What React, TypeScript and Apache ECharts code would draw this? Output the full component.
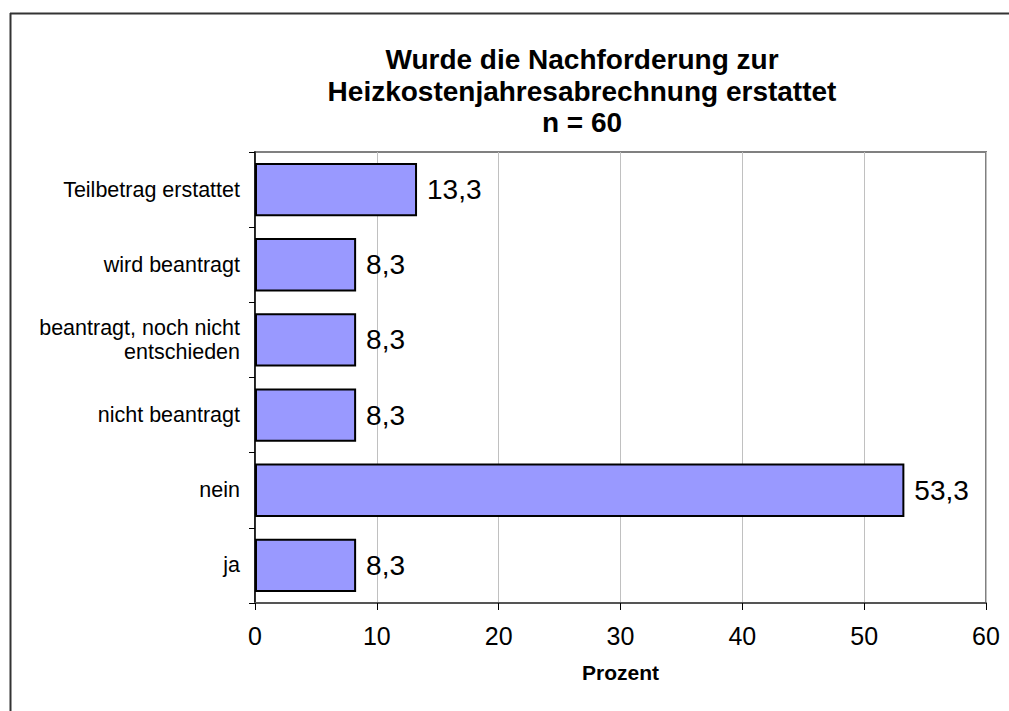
import React, { useEffect, useRef } from "react";
import * as echarts from "echarts";

const categories = [
  "ja",
  "nein",
  "nicht beantragt",
  "beantragt, noch nicht\nentschieden",
  "wird beantragt",
  "Teilbetrag erstattet",
];
const values = [8.3, 53.3, 8.3, 8.3, 8.3, 13.3];
const titleLines = [
  "Wurde die Nachforderung zur",
  "Heizkostenjahresabrechnung erstattet",
  "n = 60",
];
const FONT = "'Liberation Sans', Arial, sans-serif";

export default function App() {
  const ref = useRef<HTMLDivElement>(null);
  useEffect(() => {
    if (!ref.current) return;
    const chart = echarts.init(ref.current, null, { renderer: "svg" });
    chart.setOption({
      animation: false,
      backgroundColor: "#ffffff",
      textStyle: { fontFamily: FONT },
      graphic: [
        {
          type: "line",
          shape: { x1: 10, y1: 13.5, x2: 1009, y2: 13.5 },
          style: { stroke: "#333333", lineWidth: 2 },
          silent: true,
        },
        {
          type: "line",
          shape: { x1: 10.5, y1: 13, x2: 10.5, y2: 711 },
          style: { stroke: "#333333", lineWidth: 2 },
          silent: true,
        },
        {
          type: "text",
          x: 582,
          y: 44,
          style: {
            text: titleLines.join("\n"),
            fontFamily: FONT,
            fontWeight: "bold",
            fontSize: 28,
            fill: "#000000",
            textAlign: "center",
            lineHeight: 31.5,
          },
        },
      ],
      grid: {
        left: 255,
        top: 152,
        right: 23,
        bottom: 108,
        show: true,
        borderColor: "#808080",
        borderWidth: 2,
        containLabel: false,
      },
      xAxis: {
        type: "value",
        min: 0,
        max: 60,
        interval: 10,
        name: "Prozent",
        nameLocation: "middle",
        nameGap: 59,
        nameTextStyle: { fontFamily: FONT, fontWeight: "bold", fontSize: 21, color: "#000" },
        axisLine: { show: true, lineStyle: { color: "#555555", width: 2 } },
        axisTick: { show: true, length: 7, lineStyle: { color: "#000", width: 1 } },
        axisLabel: { fontFamily: FONT, fontSize: 25, color: "#000", margin: 20 },
        splitLine: { show: true, lineStyle: { color: "#c0c0c0", width: 1 } },
      },
      yAxis: {
        type: "category",
        data: categories,
        axisLine: { show: true, lineStyle: { color: "#000", width: 1.5 } },
        axisTick: { show: true, length: 6, lineStyle: { color: "#000", width: 1 } },
        axisLabel: { fontFamily: FONT, fontSize: 21.5, color: "#000", margin: 15, lineHeight: 24 },
      },
      series: [
        {
          type: "bar",
          data: values,
          barCategoryGap: "29%",
          itemStyle: { color: "#9999ff", borderColor: "#000", borderWidth: 2 },
          label: {
            show: true,
            position: "right",
            distance: 10,
            fontFamily: FONT,
            fontSize: 28,
            color: "#000",
            formatter: (p: any) => String(p.value.toFixed(1)).replace(".", ","),
          },
        },
      ],
    });
    return () => chart.dispose();
  }, []);
  return (
    <div
      ref={ref}
      style={{ position: "absolute", left: 0, top: 0, width: 1009, height: 711 }}
    />
  );
}
